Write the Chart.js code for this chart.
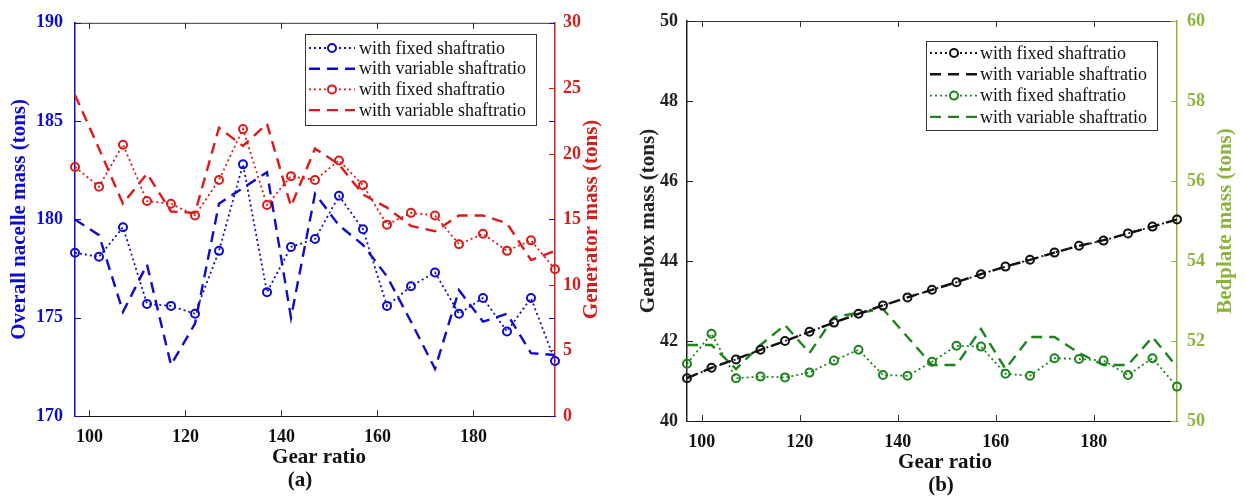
<!DOCTYPE html>
<html>
<head>
<meta charset="utf-8">
<script src="https://cdn.jsdelivr.net/npm/chart.js@4.4.1/dist/chart.umd.min.js"></script>
<style>
  body { margin: 0; background: #fff; }
  #wrap { position: relative; width: 1245px; height: 502px; }
  canvas { position: absolute; top: 0; }
  #chartA { left: 0; }
  #chartB { left: 622px; }
</style>
</head>
<body>
<div id="wrap">
  <canvas id="chartA" width="622" height="502"></canvas>
  <canvas id="chartB" width="623" height="502"></canvas>
</div>
<script>
// gear ratios tried in the sweep
const gearRatio = [97, 102, 107, 112, 117, 122, 127, 132, 137, 142, 147, 152, 157, 162, 167, 172, 177, 182, 187, 192, 197];
const gearTicks = [100, 120, 140, 160, 180];

// (a) nacelle and generator mass, tons
const nacelleFixed    = [178.3, 178.1, 179.6, 175.7, 175.6, 175.2, 178.4, 182.8, 176.3, 178.6, 179.0, 181.2, 179.5, 175.6, 176.6, 177.3, 175.2, 176.0, 174.3, 176.0, 172.8];
const nacelleVariable = [180.0, 179.2, 175.3, 177.7, 172.6, 174.7, 180.8, 181.6, 182.4, 175.0, 181.3, 179.7, 178.7, 177.1, 174.8, 172.4, 176.4, 174.8, 175.2, 173.2, 173.1];
const generatorFixed    = [19.0, 17.5, 20.7, 16.4, 16.2, 15.3, 18.0, 21.9, 16.1, 18.3, 18.0, 19.5, 17.6, 14.6, 15.5, 15.3, 13.1, 13.9, 12.6, 13.4, 11.2];
const generatorVariable = [24.5, 20.4, 16.2, 18.5, 15.6, 15.5, 22.0, 20.6, 22.3, 16.0, 20.4, 19.2, 16.9, 15.9, 14.5, 14.1, 15.3, 15.3, 14.7, 11.9, 12.6];
const nacelleTicks = [170, 175, 180, 185, 190];
const generatorTicks = [0, 5, 10, 15, 20, 25, 30];

// (b) gearbox and bedplate mass, tons
const gearboxFixed    = [41.07, 41.33, 41.54, 41.78, 42.00, 42.23, 42.46, 42.68, 42.89, 43.09, 43.28, 43.47, 43.67, 43.86, 44.03, 44.21, 44.38, 44.51, 44.69, 44.86, 45.04];
const gearboxVariable = [41.07, 41.33, 41.55, 41.78, 42.00, 42.23, 42.46, 42.68, 42.89, 43.09, 43.28, 43.47, 43.67, 43.86, 44.03, 44.21, 44.38, 44.52, 44.69, 44.86, 45.04];
const bedplateFixed    = [51.43, 52.18, 51.07, 51.11, 51.09, 51.21, 51.51, 51.78, 51.15, 51.13, 51.48, 51.88, 51.86, 51.18, 51.13, 51.57, 51.55, 51.51, 51.15, 51.57, 50.86];
const bedplateVariable = [51.9, 51.9, 51.3, 51.9, 52.4, 51.7, 52.6, 52.7, 52.8, 52.1, 51.4, 51.4, 52.3, 51.3, 52.1, 52.1, 51.7, 51.4, 51.4, 52.1, 51.35];
const gearboxTicks = [40, 42, 44, 46, 48, 50];
const bedplateTicks = [50, 52, 54, 56, 58, 60];

const serif = "'Liberation Serif', 'Times New Roman', serif";
Chart.defaults.font.family = serif;

const BLUE = '#0c0cd0';
const RED = '#e01818';
const BLACK = '#111111';
const GREEN = '#1a861a';
const OLIVE = '#8cb43c';

const pts = vals => vals.map((v, i) => ({ x: gearRatio[i], y: v }));

function series(label, vals, axis, color, kind) {
  const dotted = kind === 'dot';
  return {
    label: label,
    data: pts(vals),
    yAxisID: axis,
    borderColor: color,
    borderWidth: dotted ? 1.8 : 2.4,
    borderDash: dotted ? [2, 3] : [11, 7],
    pointRadius: dotted ? 4 : 0,
    pointBorderWidth: 2,
    pointBorderColor: color,
    pointBackgroundColor: 'rgba(0,0,0,0)',
    tension: 0,
    fill: false,
    clip: false
  };
}

// inward tick marks, top frame edge, right-hand title, captions, boxed legend
const extras = {
  id: 'extras',
  afterDatasetsDraw(chart, args, o) {
    const { ctx, chartArea: a, scales } = chart;
    const xs = scales.x, yl = scales.yL, yr = scales.yR;
    const seg = (x0, y0, x1, y1, c) => {
      ctx.strokeStyle = c;
      ctx.beginPath(); ctx.moveTo(x0, y0); ctx.lineTo(x1, y1); ctx.stroke();
    };
    ctx.save();
    ctx.lineWidth = 1;
    ctx.setLineDash([]);
    seg(a.left, a.top + 0.5, a.right, a.top + 0.5, o.frame);
    xs.ticks.forEach(t => {
      const px = Math.round(xs.getPixelForValue(t.value)) + 0.5;
      seg(px, a.bottom, px, a.bottom - 6, o.frame);
      seg(px, a.top, px, a.top + 6, o.frame);
    });
    yr.ticks.forEach(t => {
      const py = Math.round(yr.getPixelForValue(t.value)) + 0.5;
      seg(a.right, py, a.right - 6, py, yr.options.border.color);
    });
    yl.ticks.forEach(t => {
      const py = Math.round(yl.getPixelForValue(t.value)) + 0.5;
      seg(a.left, py, a.left + 6, py, yl.options.border.color);
      if (o.mirror) seg(a.right, py, a.right - 6, py, yl.options.border.color);
    });

    // right axis title reads bottom to top
    ctx.save();
    ctx.translate(o.sideX, (a.top + a.bottom) / 2);
    ctx.rotate(-Math.PI / 2);
    ctx.font = 'bold 21px ' + serif;
    ctx.fillStyle = o.sideColor;
    ctx.textAlign = 'center';
    ctx.textBaseline = 'middle';
    ctx.fillText(o.sideTitle, 0, 0);
    ctx.restore();

    ctx.font = 'bold 21px ' + serif;
    ctx.fillStyle = BLACK;
    ctx.textAlign = 'center';
    ctx.textBaseline = 'middle';
    o.captions.forEach(c => ctx.fillText(c.text, c.x, c.y));

    // legend
    const L = o.legend;
    ctx.fillStyle = '#fff';
    ctx.fillRect(L.left, L.top, L.width, L.height);
    ctx.strokeStyle = '#333';
    ctx.strokeRect(L.left + 0.5, L.top + 0.5, L.width, L.height);
    ctx.font = '18px ' + serif;
    ctx.textAlign = 'left';
    chart.data.datasets.forEach((ds, i) => {
      const y = L.top + L.first + i * L.row;
      ctx.strokeStyle = ds.borderColor;
      ctx.lineWidth = ds.borderWidth;
      ctx.setLineDash(ds.borderDash);
      ctx.beginPath(); ctx.moveTo(L.x0, y); ctx.lineTo(L.x1, y); ctx.stroke();
      ctx.setLineDash([]);
      if (ds.pointRadius > 0) {
        ctx.lineWidth = ds.pointBorderWidth;
        ctx.fillStyle = '#fff';
        ctx.beginPath(); ctx.arc((L.x0 + L.x1) / 2, y, ds.pointRadius, 0, Math.PI * 2);
        ctx.fill(); ctx.stroke();
      }
      ctx.fillStyle = BLACK;
      ctx.fillText(ds.label, L.tx, y + 1);
    });
    ctx.restore();
  }
};

function makeChart(id, cfg) {
  const fix = w => s => { s.width = w; };
  return new Chart(document.getElementById(id), {
    type: 'line',
    data: { datasets: cfg.datasets },
    options: {
      responsive: false,
      animation: false,
      devicePixelRatio: 1,
      events: [],
      layout: { padding: { top: cfg.top, left: 0, right: 0, bottom: 0 } },
      scales: {
        x: {
          type: 'linear',
          min: gearRatio[0],
          max: gearRatio[gearRatio.length - 1],
          afterBuildTicks: s => { s.ticks = gearTicks.map(v => ({ value: v })); },
          afterFit: s => { s.height = cfg.xHeight; },
          grid: { display: false, drawTicks: false },
          border: { color: BLACK, width: 1 },
          ticks: { color: BLACK, padding: 11, font: { size: 18, weight: 'bold' } }
        },
        yL: {
          type: 'linear',
          position: 'left',
          min: cfg.leftTicks[0],
          max: cfg.leftTicks[cfg.leftTicks.length - 1],
          afterBuildTicks: s => { s.ticks = cfg.leftTicks.map(v => ({ value: v })); },
          afterFit: fix(cfg.leftWidth),
          grid: { display: false, drawTicks: false },
          border: { color: cfg.leftColor, width: 1.5 },
          ticks: { color: cfg.leftColor, padding: cfg.leftPad, font: { size: 18, weight: 'bold' } },
          title: {
            display: true, text: cfg.leftTitle, color: cfg.leftColor,
            font: { size: 21, weight: 'bold' }, padding: { top: cfg.leftTitlePad, bottom: 0 }
          }
        },
        yR: {
          type: 'linear',
          position: 'right',
          min: cfg.rightTicks[0],
          max: cfg.rightTicks[cfg.rightTicks.length - 1],
          afterBuildTicks: s => { s.ticks = cfg.rightTicks.map(v => ({ value: v })); },
          afterFit: fix(cfg.rightWidth),
          grid: { display: false, drawTicks: false },
          border: { color: cfg.rightColor, width: 1.5 },
          ticks: { color: cfg.rightColor, padding: cfg.rightPad, font: { size: 18, weight: 'bold' } }
        }
      },
      plugins: {
        legend: { display: false },
        tooltip: { enabled: false },
        extras: cfg.extras
      }
    },
    plugins: [extras]
  });
}

makeChart('chartA', {
  top: 15, xHeight: 86, leftWidth: 75, rightWidth: 67,
  leftTicks: nacelleTicks, rightTicks: generatorTicks,
  leftColor: BLUE, rightColor: '#d41e1e', leftPad: 12, rightPad: 8,
  leftTitle: 'Overall nacelle mass (tons)', leftTitlePad: 7,
  datasets: [
    series('with fixed shaftratio', nacelleFixed, 'yL', BLUE, 'dot'),
    series('with variable shaftratio', nacelleVariable, 'yL', BLUE, 'dash'),
    series('with fixed shaftratio', generatorFixed, 'yR', RED, 'dot'),
    series('with variable shaftratio', generatorVariable, 'yR', RED, 'dash')
  ],
  extras: {
    frame: '#333', mirror: true,
    sideTitle: 'Generator mass (tons)', sideColor: '#d41e1e', sideX: 592,
    captions: [{ text: 'Gear ratio', x: 319, y: 458 }, { text: '(a)', x: 300, y: 481 }],
    legend: { left: 305, top: 34, width: 231, height: 91, first: 14, row: 20.7, x0: 309, x1: 355, tx: 359 }
  }
});

makeChart('chartB', {
  top: 21, xHeight: 81, leftWidth: 65, rightWidth: 68,
  leftTicks: gearboxTicks, rightTicks: bedplateTicks,
  leftColor: '#222', rightColor: OLIVE, leftPad: 9, rightPad: 10,
  leftTitle: 'Gearbox mass (tons)', leftTitlePad: 14,
  datasets: [
    series('with fixed shaftratio', gearboxFixed, 'yL', BLACK, 'dot'),
    series('with variable shaftratio', gearboxVariable, 'yL', BLACK, 'dash'),
    series('with fixed shaftratio', bedplateFixed, 'yR', GREEN, 'dot'),
    series('with variable shaftratio', bedplateVariable, 'yR', GREEN, 'dash')
  ],
  extras: {
    frame: '#333', mirror: false,
    sideTitle: 'Bedplate mass (tons)', sideColor: OLIVE, sideX: 604,
    captions: [{ text: 'Gear ratio', x: 323, y: 463 }, { text: '(b)', x: 319, y: 486 }],
    legend: { left: 304, top: 41, width: 231, height: 89, first: 12, row: 21.3, x0: 308, x1: 356, tx: 358 }
  }
});
</script>
</body>
</html>
